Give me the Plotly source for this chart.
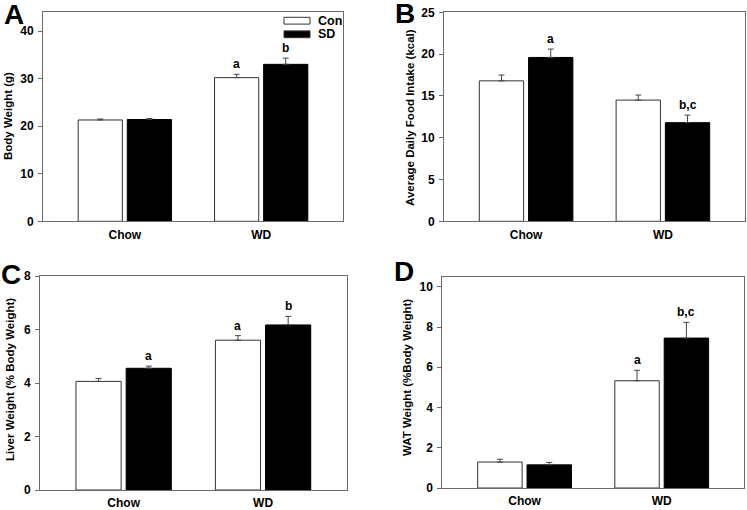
import plotly.graph_objects as go

categories = ["Chow", "WD"]
groups = ["Con", "SD"]

# Panel A: Body Weight (g)
a_con = [21.3, 30.2]
a_con_err = [0.2, 0.7]
a_sd = [21.4, 33.0]
a_sd_err = [0.2, 1.3]
a_con_sig = ["", "a"]
a_sd_sig = ["", "b"]

# Panel B: Average Daily Food Intake (kcal)
b_con = [16.8, 14.5]
b_con_err = [0.7, 0.6]
b_sd = [19.6, 11.8]
b_sd_err = [1.0, 0.9]
b_con_sig = ["", ""]
b_sd_sig = ["a", "b,c"]

# Panel C: Liver Weight (% Body Weight)
c_con = [4.06, 5.60]
c_con_err = [0.11, 0.17]
c_sd = [4.55, 6.17]
c_sd_err = [0.08, 0.32]
c_con_sig = ["", "a"]
c_sd_sig = ["a", "b"]

# Panel D: WAT Weight (%Body Weight)
d_con = [1.29, 5.33]
d_con_err = [0.14, 0.52]
d_sd = [1.15, 7.45]
d_sd_err = [0.12, 0.78]
d_con_sig = ["", "a"]
d_sd_sig = ["", "b,c"]

W, H = 747, 510
FONT = "Liberation Sans, Arial, sans-serif"
LINE = "#6a6a6a"


def fx(px):
    return px / W


def fy(py):
    return 1 - py / H


panels = [
    dict(con=a_con, ce=a_con_err, sd=a_sd, se=a_sd_err, cs=a_con_sig, ss=a_sd_sig,
         title="Body Weight (g)", letter="A", yrange=[0, 44], dtick=10,
         px=(43, 343), py=(12, 221.3), tpos=(8, 116), lpos=(14, 14)),
    dict(con=b_con, ce=b_con_err, sd=b_sd, se=b_sd_err, cs=b_con_sig, ss=b_sd_sig,
         title="Average Daily Food Intake (kcal)", letter="B", yrange=[0, 25], dtick=5,
         px=(444, 745), py=(12.3, 221.3), tpos=(410, 118), lpos=(405, 13)),
    dict(con=c_con, ce=c_con_err, sd=c_sd, se=c_sd_err, cs=c_con_sig, ss=c_sd_sig,
         title="Liver Weight (% Body Weight)", letter="C", yrange=[0, 8], dtick=2,
         px=(40, 346.7), py=(276, 490), tpos=(10, 380), lpos=(11, 274)),
    dict(con=d_con, ce=d_con_err, sd=d_sd, se=d_sd_err, cs=d_con_sig, ss=d_sd_sig,
         title="WAT Weight (%Body Weight)", letter="D", yrange=[0, 10.5], dtick=2,
         px=(442.3, 744), py=(276.7, 488), tpos=(407, 378), lpos=(404, 271)),
]

fig = go.Figure()
layout = dict(
    width=W, height=H, margin=dict(l=0, r=0, t=0, b=0, autoexpand=False),
    paper_bgcolor="white", plot_bgcolor="white",
    showlegend=False, barmode="group", bargap=0.28, bargroupgap=0.1,
    font=dict(family=FONT, size=12, color="black", weight="bold"),
)
annotations = []
shapes = []

xs = list(range(len(categories)))
offset = 0.18

for i, p in enumerate(panels):
    n = "" if i == 0 else str(i + 1)
    xa, ya = "x" + n, "y" + n
    fill_specs = [
        (groups[0], p["con"], p["ce"], p["cs"], "white", "#333333", -offset),
        (groups[1], p["sd"], p["se"], p["ss"], "black", "black", offset),
    ]
    for name, vals, errs, sigs, fill, outline, off in fill_specs:
        fig.add_trace(go.Bar(
            x=xs, y=vals, name=name, xaxis=xa, yaxis=ya,
            marker=dict(color=fill, line=dict(color=outline, width=1)),
            error_y=dict(type="data", array=errs, arrayminus=[0] * len(errs),
                         symmetric=False, color="#444444", thickness=1, width=3),
        ))
        for k, s in enumerate(sigs):
            if s:
                annotations.append(dict(
                    x=xs[k] + off, y=vals[k] + errs[k], xref=xa, yref=ya,
                    text=s, showarrow=False, yanchor="bottom", yshift=1,
                    font=dict(size=12, family=FONT, weight="bold"),
                ))
    x0, x1 = p["px"]
    y0, y1 = p["py"]
    layout["xaxis" + n] = dict(
        domain=[fx(x0), fx(x1)], anchor=ya, range=[-0.6, 1.6], automargin=False,
        tickvals=xs, ticktext=categories, ticks="", showgrid=False, zeroline=False,
        showline=True, mirror=True, linecolor=LINE, linewidth=1,
        tickfont=dict(size=12, family=FONT, weight="bold"), ticklabelstandoff=2,
    )
    layout["yaxis" + n] = dict(
        domain=[fy(y1), fy(y0)], anchor=xa, range=p["yrange"], dtick=p["dtick"],
        automargin=False,
        showgrid=False, zeroline=False, showline=True, mirror=True,
        linecolor=LINE, linewidth=1, ticks="outside", ticklen=4, tickcolor=LINE,
        tickfont=dict(size=12, family=FONT, weight="bold"), ticklabelstandoff=2,
    )
    tx, ty = p["tpos"]
    annotations.append(dict(
        x=fx(tx), y=fy(ty), xref="paper", yref="paper", text=p["title"],
        textangle=-90, showarrow=False, xanchor="center", yanchor="middle",
        font=dict(size=11.5, family=FONT, weight="bold"),
    ))
    lx, ly = p["lpos"]
    annotations.append(dict(
        x=fx(lx), y=fy(ly), xref="paper", yref="paper", text=p["letter"],
        showarrow=False, xanchor="center", yanchor="middle",
        font=dict(size=28, family=FONT, weight="bold"),
    ))

# legend drawn in panel A (paper coordinates)
legend_items = [(groups[0], "white", 20.7), (groups[1], "black", 34.3)]
for name, fill, cy in legend_items:
    shapes.append(dict(type="rect", xref="paper", yref="paper",
                       x0=fx(284), x1=fx(310), y0=fy(cy + 3.4), y1=fy(cy - 3.4),
                       fillcolor=fill, line=dict(color="#333333", width=1)))
    annotations.append(dict(x=fx(316), y=fy(cy), xref="paper", yref="paper",
                            text=name, showarrow=False, xanchor="left", yanchor="middle",
                            font=dict(size=12.5, family=FONT, weight="bold")))

layout["annotations"] = annotations
layout["shapes"] = shapes
fig.update_layout(**layout)
fig.write_html("out.html", config={"displayModeBar": False},
               post_script="document.body.style.margin='0px';")
